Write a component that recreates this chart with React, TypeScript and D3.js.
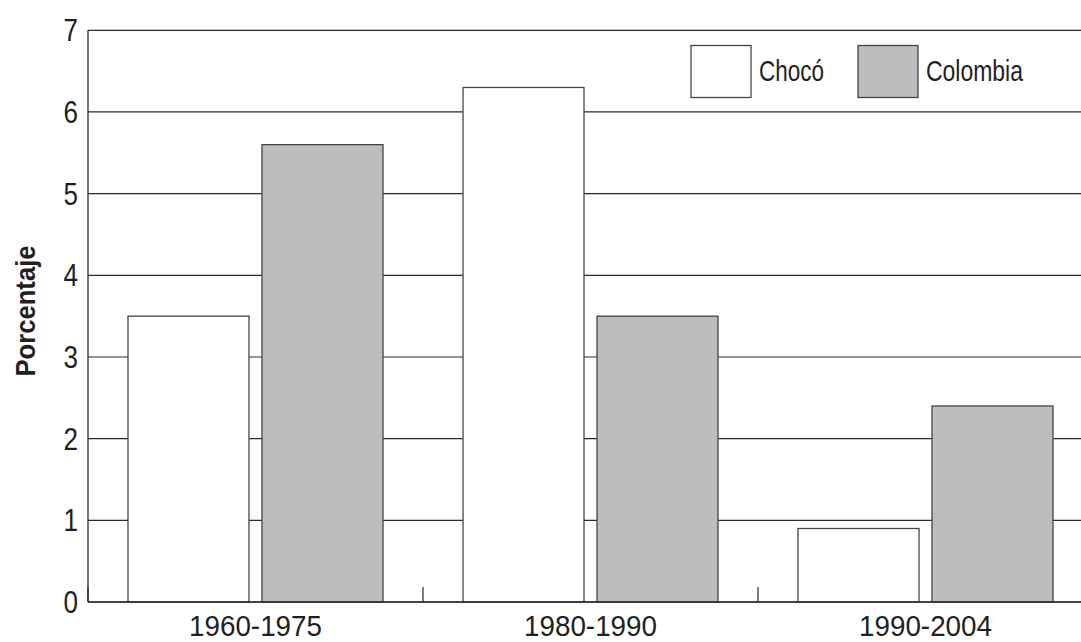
import React from "react";
import * as d3 from "d3";

const categories = ["1960-1975", "1980-1990", "1990-2004"];
const seriesNames = ["Chocó", "Colombia"];
const chocoValues = [3.5, 6.3, 0.9];
const colombiaValues = [5.6, 3.5, 2.4];
const yTicks = [0, 1, 2, 3, 4, 5, 6, 7];

const W = 1081;
const H = 642;
const FONT = "'Liberation Sans', Arial, sans-serif";
const GRAY = "#bcbdbf";

export default function App() {
  const x0 = d3.scaleBand<string>().domain(categories).range([88, 1093]).padding(0);
  const x1 = d3
    .scaleBand<string>()
    .domain(seriesNames)
    .range([40, 295])
    .paddingInner(13 / 134)
    .paddingOuter(0);
  const y = d3.scaleLinear().domain([0, 7]).range([602, 30.3]);
  const fills: Record<string, string> = { "Chocó": "#ffffff", Colombia: GRAY };
  const valuesBy: Record<string, number[]> = { "Chocó": chocoValues, Colombia: colombiaValues };
  const labelLen: Record<string, number> = { "Chocó": 65, Colombia: 97 };

  const legendX = [691, 858];

  return (
    <svg
      width={W}
      height={H}
      style={{ position: "absolute", left: 0, top: 0, background: "#fff" }}
      fontFamily={FONT}
    >
      <rect x={0} y={0} width={W} height={H} fill="#fff" />
      {/* gridlines */}
      {yTicks.map((t) => (
        <line key={"g" + t} x1={88} x2={1093} y1={y(t)} y2={y(t)} stroke="#2a2a2a" strokeWidth={1.2} />
      ))}
      {/* bars */}
      {categories.map((c, i) =>
        seriesNames.map((s) => {
          const v = valuesBy[s][i];
          const bx = (x0(c) ?? 0) + (x1(s) ?? 0);
          return (
            <rect
              key={c + s}
              x={bx}
              y={y(v)}
              width={x1.bandwidth()}
              height={y(0) - y(v)}
              fill={fills[s]}
              stroke="#444"
              strokeWidth={1.3}
            />
          );
        })
      )}
      {/* category separator ticks */}
      {categories.map((c) => (
        <line key={"t" + c} x1={x0(c)} x2={x0(c)} y1={602} y2={587} stroke="#2a2a2a" strokeWidth={1.2} />
      ))}
      {/* axes */}
      <line x1={88} x2={88} y1={y(7)} y2={602} stroke="#2a2a2a" strokeWidth={1.3} />
      <line x1={88} x2={1093} y1={602} y2={602} stroke="#2a2a2a" strokeWidth={1.5} />
      {/* y tick labels */}
      {yTicks.map((t) => (
        <text
          key={"l" + t}
          x={78}
          y={y(t)}
          dy="0.36em"
          textAnchor="end"
          fontSize={31}
          fill="#231f20"
          textLength={14.5}
          lengthAdjust="spacingAndGlyphs"
        >
          {t}
        </text>
      ))}
      {/* x labels */}
      {categories.map((c) => (
        <text
          key={"x" + c}
          x={(x0(c) ?? 0) + x0.bandwidth() / 2}
          y={636}
          textAnchor="middle"
          fontSize={29}
          fill="#231f20"
          textLength={133}
          lengthAdjust="spacingAndGlyphs"
        >
          {c}
        </text>
      ))}
      {/* y axis title */}
      <text
        transform="translate(35,311) rotate(-90)"
        textAnchor="middle"
        fontSize={28}
        fontWeight="bold"
        fill="#231f20"
        textLength={131}
        lengthAdjust="spacingAndGlyphs"
      >
        Porcentaje
      </text>
      {/* legend */}
      {seriesNames.map((s, i) => (
        <g key={"lg" + s}>
          <rect x={legendX[i]} y={45.5} width={60} height={52} fill={fills[s]} stroke="#444" strokeWidth={1.3} />
          <text
            x={legendX[i] + 68}
            y={81}
            fontSize={30}
            fill="#231f20"
            textLength={labelLen[s]}
            lengthAdjust="spacingAndGlyphs"
          >
            {s}
          </text>
        </g>
      ))}
    </svg>
  );
}
